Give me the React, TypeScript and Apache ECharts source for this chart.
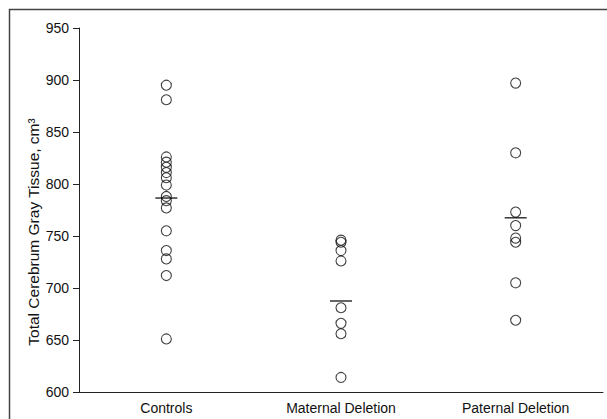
import React, { useEffect, useRef } from "react";
import * as echarts from "echarts";

const categories = ["Controls", "Maternal Deletion", "Paternal Deletion"];
const controls = [895, 881, 826, 821, 816, 811, 806, 799, 788, 784, 777, 755, 736, 728, 712, 651];
const maternal = [746, 744, 736, 726, 681, 666, 656, 614];
const paternal = [897, 830, 773, 760, 748, 744, 705, 669];
const means = [786.5, 687.5, 767.5];
const yTicks = { min: 600, max: 950, interval: 50 };
const yTitle = "Total Cerebrum Gray Tissue, cm\u00B3";

export default function App() {
  const ref = useRef<HTMLDivElement>(null);
  useEffect(() => {
    if (!ref.current) return;
    const chart = echarts.init(ref.current, undefined, { renderer: "svg" });
    const groups = [controls, maternal, paternal];
    const points: [string, number][] = [];
    groups.forEach((g, i) => g.forEach((v) => points.push([categories[i], v])));
    const font = "'Liberation Sans', Arial, sans-serif";
    chart.setOption({
      animation: false,
      backgroundColor: "#fff",
      grid: { left: 79, right: 4, top: 28, bottom: 27 },
      graphic: [
        {
          type: "polyline",
          shape: { points: [[9.5, 430], [9.5, 9.5], [620, 9.5]] },
          style: { fill: "none", stroke: "#444", lineWidth: 1.5 },
          silent: true,
        },
        {
          type: "text",
          x: 33,
          y: 232,
          rotation: Math.PI / 2,
          style: {
            text: yTitle,
            fill: "#111",
            font: `15.5px ${font}`,
            align: "center",
            verticalAlign: "middle",
          },
          silent: true,
        },
      ],
      xAxis: {
        type: "category",
        data: categories,
        boundaryGap: true,
        axisLine: { lineStyle: { color: "#222", width: 1 } },
        axisTick: { show: false },
        axisLabel: { color: "#111", fontSize: 14, fontFamily: font, margin: 9 },
        splitLine: { show: false },
      },
      yAxis: {
        type: "value",
        min: yTicks.min,
        max: yTicks.max,
        interval: yTicks.interval,
        axisLine: { show: true, lineStyle: { color: "#222", width: 1 } },
        axisTick: { show: true, inside: false, length: 6, lineStyle: { color: "#222" } },
        axisLabel: { color: "#111", fontSize: 14, fontFamily: font, margin: 10 },
        splitLine: { show: false },
      },
      series: [
        {
          type: "scatter",
          data: points,
          symbol: "circle",
          symbolSize: 10,
          itemStyle: { color: "transparent", borderColor: "#111", borderWidth: 1.1 },
        },
        {
          type: "scatter",
          data: means.map((m, i) => [categories[i], m]),
          symbol: "rect",
          symbolSize: [22, 1.5],
          itemStyle: { color: "#000" },
          z: 3,
        },
      ],
    });
    return () => chart.dispose();
  }, []);
  return (
    <div
      ref={ref}
      style={{ position: "fixed", left: 0, top: 0, width: 607, height: 419 }}
    />
  );
}
